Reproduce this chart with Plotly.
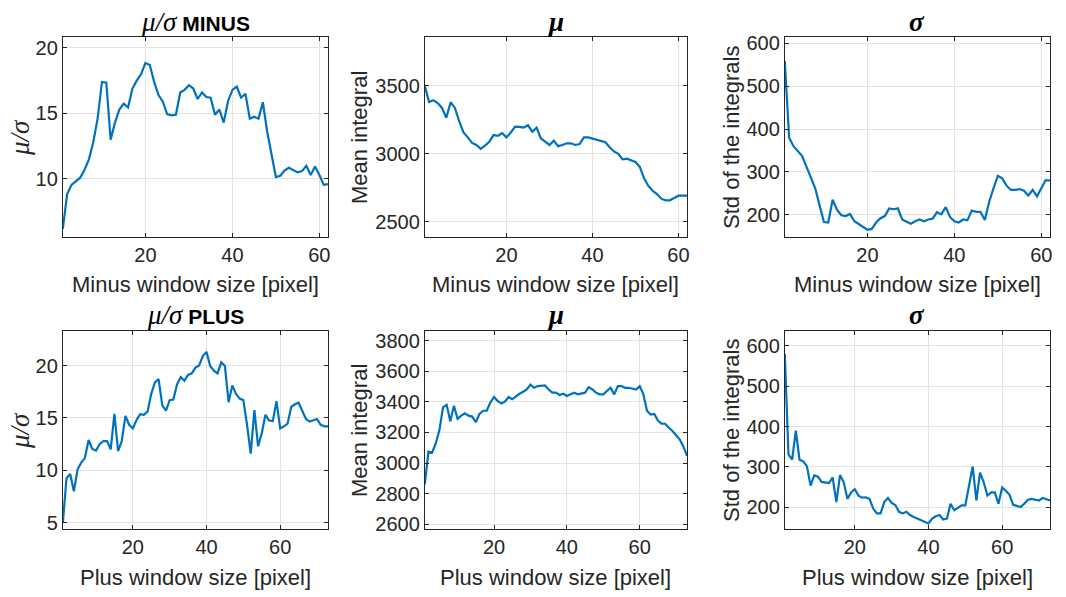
import plotly.graph_objects as go

# Window sizes
minus_size = list(range(1, 63))
plus_size = list(range(1, 74))

# MINUS window results
minus_snr = [6.2, 8.85, 9.55, 9.8, 10.1, 10.7, 11.5, 12.8, 14.6, 17.4,
             17.35, 13.0, 14.3, 15.3, 15.75, 15.45, 16.9, 17.5, 18.0, 18.85,
             18.7, 17.4, 16.4, 15.9, 14.95, 14.85, 14.9, 16.6, 16.8, 17.15,
             16.9, 16.1, 16.6, 16.25, 16.2, 14.9, 15.3, 14.3, 15.95, 16.8,
             17.05, 16.2, 16.5, 14.6, 14.75, 14.6, 15.85, 13.6, 11.8, 10.15,
             10.25, 10.65, 10.85, 10.7, 10.5, 10.6, 11.0, 10.3, 10.95, 10.3,
             9.55, 9.6]
minus_mean = [3500, 3382, 3394, 3374, 3338, 3266, 3380, 3338, 3240, 3157,
              3121, 3080, 3065, 3036, 3060, 3089, 3138, 3133, 3152, 3121,
              3157, 3200, 3198, 3193, 3210, 3162, 3193, 3113, 3089, 3065,
              3097, 3056, 3065, 3077, 3077, 3065, 3072, 3121, 3121, 3113,
              3104, 3097, 3085, 3048, 3017, 3000, 2959, 2964, 2952, 2940,
              2903, 2819, 2763, 2727, 2703, 2669, 2657, 2657, 2674, 2691,
              2691, 2691]
minus_std = [559, 380, 360, 348, 337, 312, 289, 262, 222, 183,
             182, 235, 212, 199, 197, 202, 185, 178, 173, 165,
             167, 182, 192, 197, 215, 213, 215, 189, 184, 179,
             185, 189, 185, 189, 191, 206, 201, 218, 195, 185,
             182, 189, 187, 210, 207, 207, 188, 230, 262, 291,
             285, 268, 258, 258, 260, 256, 245, 258, 243, 262,
             281, 280]

# PLUS window results
plus_snr = [5.0, 9.25, 9.65, 8.0, 10.1, 10.75, 11.2, 12.9, 12.05, 11.9,
            12.5, 12.8, 12.8, 12.0, 15.4, 11.85, 12.8, 15.2, 14.35, 14.0,
            14.8, 15.35, 15.3, 15.6, 17.3, 18.4, 18.7, 16.2, 15.7, 16.7,
            16.75, 18.2, 18.9, 18.55, 19.1, 19.25, 19.8, 20.0, 20.9, 21.3,
            19.95, 19.5, 19.25, 20.3, 19.95, 16.5, 18.1, 17.3, 16.85, 16.7,
            14.35, 11.6, 15.75, 12.3, 13.55, 15.3, 14.75, 14.7, 16.6, 14.0,
            14.2, 14.45, 16.05, 16.3, 16.45, 15.75, 14.9, 14.65, 14.75, 14.9,
            14.35, 14.2, 14.2]
plus_mean = [2861, 3075, 3068, 3128, 3214, 3364, 3381, 3274, 3374, 3289,
             3310, 3325, 3310, 3304, 3267, 3321, 3342, 3342, 3396, 3432,
             3406, 3389, 3402, 3432, 3417, 3438, 3453, 3466, 3481, 3513,
             3492, 3503, 3503, 3507, 3481, 3460, 3460, 3445, 3453, 3438,
             3449, 3460, 3449, 3453, 3460, 3496, 3481, 3460, 3449, 3449,
             3471, 3492, 3449, 3503, 3503, 3492, 3492, 3488, 3481, 3503,
             3449, 3342, 3317, 3321, 3278, 3257, 3257, 3231, 3210, 3182,
             3154, 3107, 3047]
plus_std = [580, 331, 318, 390, 318, 314, 302, 254, 279, 276,
            263, 262, 260, 274, 213, 280, 262, 221, 237, 245,
            229, 224, 225, 221, 197, 185, 185, 213, 223, 211,
            206, 189, 185, 189, 181, 176, 172, 170, 164, 160,
            172, 178, 181, 170, 172, 209, 193, 198, 205, 205,
            249, 301, 217, 286, 262, 229, 237, 237, 209, 249,
            241, 231, 206, 203, 201, 209, 219, 221, 219, 217,
            223, 219, 217]

LINE = "#0072BD"
TXT = "#262626"
FONT = "Liberation Sans, Arial, sans-serif"
SERIF = "Liberation Serif, Times New Roman, serif"

W, H = 1066, 597
col_px = [(63, 329), (426, 689), (787, 1053)]
row_px = [(33, 236), (332, 534)]

greek_ratio = f"<span style='font-family:{SERIF};font-size:27px'><i>μ/σ</i></span>"
greek_mu = f"<span style='font-family:{SERIF};font-size:27px'><b><i>μ</i></b></span>"
greek_sigma = f"<span style='font-family:{SERIF};font-size:27px'><b><i>σ</i></b></span>"

panels = [
    # row, col, x, y, yrange, yticks, title, xlabel, ylabel
    (0, 0, minus_size, minus_snr, [5.6, 20.8], [10, 15, 20],
     f"{greek_ratio} <b>MINUS</b>", "Minus window size [pixel]", greek_ratio),
    (0, 1, minus_size, minus_mean, [2389, 3858], [2500, 3000, 3500],
     greek_mu, "Minus window size [pixel]", "Mean integral"),
    (0, 2, minus_size, minus_std, [149, 614], [200, 300, 400, 500, 600],
     greek_sigma, "Minus window size [pixel]", "Std of the integrals"),
    (1, 0, plus_size, plus_snr, [4.4, 23.3], [5, 10, 15, 20],
     f"{greek_ratio} <b>PLUS</b>", "Plus window size [pixel]", greek_ratio),
    (1, 1, plus_size, plus_mean, [2568, 3864],
     [2600, 2800, 3000, 3200, 3400, 3600, 3800],
     greek_mu, "Plus window size [pixel]", "Mean integral"),
    (1, 2, plus_size, plus_std, [146, 637], [200, 300, 400, 500, 600],
     greek_sigma, "Plus window size [pixel]", "Std of the integrals"),
]

ylabel_x = [20, 360, 733]

fig = go.Figure()
annotations = []
for k, (r, c, xs, ys, yr, yt, title, xlab, ylab) in enumerate(panels):
    n = k + 1
    xa = "xaxis" if n == 1 else f"xaxis{n}"
    ya = "yaxis" if n == 1 else f"yaxis{n}"
    x0, x1 = col_px[c]
    y0, y1 = row_px[r]
    fig.add_trace(go.Scatter(
        x=xs, y=ys, mode="lines",
        line=dict(color=LINE, width=2.2),
        xaxis="x" if n == 1 else f"x{n}",
        yaxis="y" if n == 1 else f"y{n}",
        showlegend=False,
    ))
    common = dict(
        showline=True, linecolor=TXT, linewidth=1, mirror="ticks",
        ticks="inside", ticklen=4, tickcolor=TXT,
        showgrid=True, gridcolor="#e3e3e3", gridwidth=1,
        zeroline=False,
        tickfont=dict(family=FONT, size=20, color=TXT),
    )
    fig.update_layout({
        xa: dict(common, domain=[x0 / W, x1 / W], range=[1, xs[-1]],
                 tickvals=[20, 40, 60], anchor="y" if n == 1 else f"y{n}"),
        ya: dict(common, domain=[1 - y1 / H, 1 - y0 / H], range=yr,
                 tickvals=yt, anchor="x" if n == 1 else f"x{n}"),
    })
    cx = (x0 + x1) / 2 / W
    annotations.append(dict(
        text=title, x=cx, y=1 - (y0 - 16) / H, xref="paper", yref="paper",
        showarrow=False, xanchor="center", yanchor="middle",
        font=dict(family=FONT, size=21, color="#000000")))
    annotations.append(dict(
        text=xlab, x=cx, y=1 - (y1 + 49) / H, xref="paper", yref="paper",
        showarrow=False, xanchor="center", yanchor="middle",
        font=dict(family=FONT, size=22, color=TXT)))
    annotations.append(dict(
        text=ylab, x=ylabel_x[c] / W, y=1 - (y0 + y1) / 2 / H,
        xref="paper", yref="paper", textangle=-90,
        showarrow=False, xanchor="center", yanchor="middle",
        font=dict(family=FONT, size=22, color=TXT)))

fig.update_layout(
    width=W, height=H,
    margin=dict(l=0, r=0, t=0, b=0),
    paper_bgcolor="white", plot_bgcolor="white",
    annotations=annotations,
)

fig.write_html("out.html")
